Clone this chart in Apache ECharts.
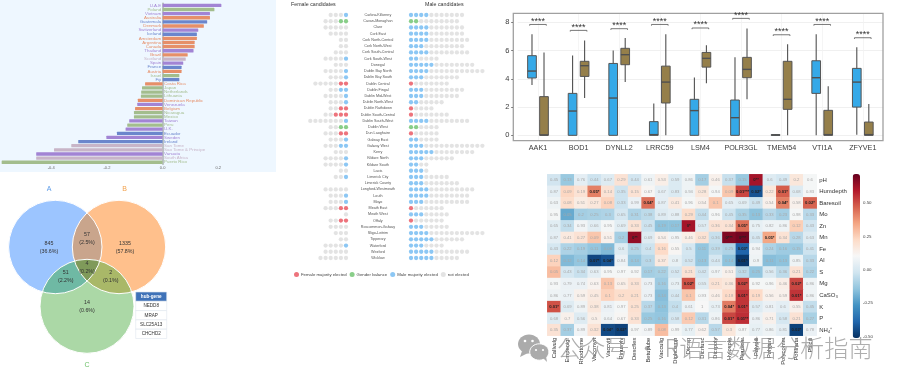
<!DOCTYPE html>
<html><head><meta charset="utf-8">
<style>html,body{margin:0;padding:0;background:#fff}#c{width:900px;height:383px;filter:blur(0.4px)}</style>
<script src="https://cdn.jsdelivr.net/npm/echarts@6/dist/echarts.min.js"></script></head>
<body><div id="c"></div>
<script>
// ---------- Panel A: diverging bars ----------
const barCountries=['U.A.E','Poland','Vietnam','Australia','Guatemala','Denmark','Switzerland','Iceland','Amsterdam','Argentina','Canada','Thailand','Brazil','Scotland','Spain','France','Austria','Israel','Fiji','Costa Rica','Japan','Netherlands','Lithuania','Dominican Republic','Venezuela','Belgium','Nicaragua','Mexico','Taiwan','Peru','U.K.','Ecuador','Sweden','Ireland','San Tome','Sao Tome & Principe','Vanuatu','South Africa','Puerto Rico'];
const barValues=[.211,.186,.17,.17,.16,.148,.128,.123,.123,.115,.115,.111,.09,.083,.074,.068,.068,.06,.06,-.063,-.074,-.077,-.078,-.089,-.091,-.099,-.103,-.103,-.12,-.127,-.133,-.164,-.202,-.303,-.328,-.39,-.454,-.454,-.578];
const barGroups=['p','g','p','o','b','o','p','b','o','o','o','p','o','m','p','b','o','g','b','o','g','g','g','o','p','o','g','g','p','g','p','b','p','b','m','m','p','m','g'];
const barTicks=[-0.4,-0.2,0,0.2];
// ---------- Panel B: Venn ----------
const vennNames=['A','B','C'];
const vennRegions=[['A'],['B'],['C'],['A','B'],['A','C'],['B','C'],['A','B','C']];
const vennCounts=['845','1335','14','57','51','2','4'];
const vennPercents=['36.6%','57.8%','0.6%','2.5%','2.2%','0.1%','0.2%'];
const hubHeader='hub-gene';
const hubGenes=['NEDD8','MRAP','SLC25A13','CHCHD2'];
// ---------- Panel C: candidate dots ----------
const constituencies=['Carlow-Kilkenny','Cavan-Monaghan','Clare','Cork East','Cork North-Central','Cork North-West','Cork South-Central','Cork South-West','Donegal','Dublin Bay North','Dublin Bay South','Dublin Central','Dublin Fingal','Dublin Mid-West','Dublin North-West','Dublin Rathdown','Dublin South-Central','Dublin South-West','Dublin West','Dun Laoghaire','Galway East','Galway West','Kerry','Kildare North','Kildare South','Laois','Limerick City','Limerick County','Longford-Westmeath','Louth','Mayo','Meath East','Meath West','Offaly','Roscommon-Galway','Sligo-Leitrim','Tipperary','Waterford','Wexford','Wicklow'];
const femaleTotal=[4,5,5,4,2,2,3,5,3,5,4,7,4,5,4,4,5,8,4,5,4,5,3,5,5,2,3,0,5,4,4,5,1,4,4,3,2,5,5,6];
const femaleElected=[1,2,0,0,0,0,0,1,0,1,1,2,2,1,1,2,3,1,2,2,1,2,0,1,1,0,1,0,0,1,1,2,0,2,0,0,0,1,0,0];
const maleTotal=[11,10,11,11,12,11,12,6,13,15,10,8,11,10,7,5,8,12,6,6,6,15,13,9,4,4,8,10,13,12,12,7,8,7,8,15,11,7,12,10];
const maleElected=[4,2,4,4,4,3,4,2,5,4,3,1,3,3,2,1,1,4,2,1,2,3,5,3,2,3,3,3,4,4,3,1,3,1,3,4,5,3,5,5];
const outcome=['m','b','m','m','m','m','m','m','m','m','m','f','m','m','m','f','f','m','b','f','m','m','m','m','m','m','m','m','m','m','m','f','m','f','m','m','m','m','m','m'];
const dotLegend=['Female majority elected','Gender balance','Male majority elected','not elected'];
// ---------- Panel D: boxplots [min,q1,median,q3,max] ----------
const boxGenes=['AAK1','BOD1','DYNLL2','LRRC59','LSM4','POLR3GL','TMEM54','VTI1A','ZFYVE1'];
const boxBlue=[[3.56,4.06,4.55,5.64,7.15],[0,0,1.72,2.97,5.66],[0,0,2.64,5.09,6.01],[0,0,.05,.97,2.26],[0,0,1.75,2.55,4.1],[0,0,1.25,2.5,5.52],[0,0,.02,.05,.1],[0,2.97,4.08,5.28,7.15],[.05,2,3.77,4.74,6.23]];
const boxOlive=[[0,0,.03,2.74,5.87],[2.64,4.17,4.93,5.24,6.72],[3.77,5,5.71,6.16,6.89],[0,2.29,3.77,4.9,7.15],[3.68,4.83,5.45,5.87,6.37],[2.55,4.08,4.67,5.52,7.57],[0,1.84,2.55,5.24,6.44],[0,0,.05,1.77,3.47],[0,0,.05,.94,2.22]];
const bracketHeights=[7.85,7.43,7.55,7.85,7.6,8.28,7.12,7.85,6.91];
const boxTicks=[0,2,4,6,8];
// ---------- Panel E: heatmap ----------
const heatCols=['Callvulg','Empenigr','Rhodtome','Vaccmyrt','Vaccviti','Pinusylv','Descflex','Betupube','Vacculig','Diphcomp','Dicrsp','Dicrfusc','Dicrpoly','Hylosple','Pleuschr','Polypili','Polyjuni','Polycomm','Pohlnuta','Ptilcili'];
const heatRows=['pH','Humdepth','Baresoil','Mo','Zn','Mn','Fe','Al','S','Mg','CaSO₃','K','P','NH₄⁺'];
const heatR=[
[-.01,-.12,.05,-.02,.03,.2,-.01,.08,.15,.02,.08,-.1,.14,-.03,-.12,.62,.03,0,.18,.1],
[.05,.24,.2,.42,.2,-.02,.2,.12,.05,.02,.08,.18,.1,.28,.52,-.42,.18,.48,.03,.1],
[.08,.22,.16,.18,.25,-.02,.07,.45,.05,.17,.1,.14,.28,.05,.04,-.02,.14,.42,.14,.47],
[.1,-.2,-.1,-.09,-.08,0,-.08,-.05,.03,.05,.22,-.04,.1,-.02,-.09,-.14,-.06,-.1,.1,-.06],
[.04,-.04,.09,.04,.1,.04,.2,-.02,-.14,-.14,.62,.03,.2,.2,.45,.06,.08,.08,.26,-.01],
[.05,.17,.2,.28,.14,-.1,.65,.03,.14,.09,.15,.2,-.03,.68,.7,0,.35,.2,-.06,.03],
[0,-.08,-.1,-.13,-.16,.03,-.07,-.02,.23,.12,0,-.13,-.05,-.08,-.38,.09,-.08,-.11,-.11,-.02],
[.25,-.16,-.13,-.45,-.42,.07,-.13,-.06,.17,.06,-.01,-.13,0,-.14,-.48,.08,-.15,-.14,.08,-.06],
[.3,0,-.03,.05,.1,.1,.1,-.1,-.09,0,.2,-.01,.08,.14,-.05,-.13,.02,-.05,.2,-.08],
[.1,.07,.07,.13,.28,.15,.2,.07,-.11,.06,.5,.03,.2,.18,.52,.1,.1,.15,.52,.08],
[.08,.07,.14,.17,.25,.22,.22,.07,-.15,0,.28,.1,.15,.23,.55,.23,.14,.14,.55,.08],
[.5,.03,.08,.18,.07,.1,.21,-.06,-.14,-.04,.07,.11,.06,.43,.55,.03,.07,.05,.14,-.04],
[.03,.14,.03,.15,.08,.12,.2,-.12,-.13,0,.27,-.06,.08,.52,.56,.07,.14,0,.2,-.09],
[.2,-.1,.09,.2,-.44,-.46,.1,.09,.3,.1,.06,.13,-.06,.18,.1,.06,.08,.05,-.46,.07]];
const heatP=[
['0.45','0.13','0.76','0.44','0.67','0.29','0.44','0.61','0.53','0.59','0.86','0.17','0.46','0.37','0.15','0**','0.6','0.49','0.2','0.6'],
['0.87','0.09','0.19','0.05*','0.14','0.35','0.15','0.67','0.67','0.83','0.94','0.28','0.94','0.09','0.01***','0.02*','0.22','0.01*','0.68','0.83'],
['0.63','0.08','0.51','0.27','0.08','0.33','0.99','0.04*','0.87','0.41','0.96','0.54','0.1','0.65','0.69','0.49','0.54','0.04*','0.58','0.02*'],
['0.95','0.05','0.2','0.25','0.3','0.65','0.31','0.38','0.89','0.88','0.29','0.44','0.96','0.45','0.35','0.13','0.33','0.23','0.98','0.33'],
['0.65','0.34','0.93','0.66','0.95','0.69','0.33','0.45','0.19','0.17','0*','0.57','0.36','0.34','0.05*','0.75','0.82','0.86','0.12','0.43'],
['0.87','0.41','0.27','0.09','0.51','0.2','0**','0.69','0.54','0.95','0.46','0.32','0.36','0***','0***','0.45','0.05*','0.34','0.28','0.63'],
['0.43','0.22','0.19','0.11','0.08','0.6','0.25','0.4','0.16','0.55','0.5','0.11','0.39','0.25','0.03*','0.94','0.24','0.16','0.15','0.41'],
['0.12','0.12','0.14','0.07*','0.04*','0.84','0.14','0.3','0.37','0.8','0.52','0.13','0.44','0.14','0.01*','0.9','0.11','0.13','0.85','0.33'],
['0.05','0.43','0.34','0.63','0.95','0.97','0.92','0.17','0.22','0.52','0.21','0.42','0.97','0.51','0.32','0.25','0.56','0.36','0.21','0.22'],
['0.93','0.79','0.74','0.63','0.13','0.65','0.33','0.73','0.16','0.73','0.02*','0.55','0.21','0.36','0.02*','0.92','0.96','0.46','0.02*','0.86'],
['0.86','0.77','0.59','0.45','0.1','0.2','0.21','0.73','0.14','0.44','0.1','0.93','0.46','0.18','0.01*','0.19','0.56','0.59','0.01*','0.86'],
['0.01*','0.69','0.89','0.38','0.81','0.97','0.25','0.37','0.13','0.4','0.61','1','0.73','0.04*','0.01*','0.57','0.81','0.6','0.55','0.45'],
['0.68','0.7','0.56','0.5','0.64','0.67','0.33','0.25','0.16','0.58','0.12','0.31','0.86','0.01*','0.01**','0.86','0.71','0.58','0.21','0.27'],
['0.35','0.37','0.89','0.32','0.04*','0.02*','0.97','0.89','0.08','0.99','0.77','0.62','0.57','0.3','0.87','0.77','0.86','0.81','0.02*','0.78']];
const colorbarTicks=['0.50','0.25','0.00','-0.25','-0.50'];
const watermark='公众号 · R语言数据分析指南';

// ---------- styles & layout (separate from the data) ----------
const FONT='"Liberation Sans",Arial,sans-serif';
const barPalette={p:'#a284d4',g:'#a3bd8d',b:'#6b86cc',o:'#e68f69',m:'#c8b5c8'};
const dotColors={f:'#e8505b',b:'#6fb9f1',m:'#6fb9f1',n:'#dcdcdc'};
dotColors.b='#6cc26c';
const rdbu=['#053061','#2166ac','#4393c3','#92c5de','#d1e5f0','#f7f7f7','#fddbc7','#f4a582','#d6604d','#b2182b','#67001f'];
const vennLayout={A:[55.3,72,46.7],B:[119,72,46.7],C:[87,131.3,47]};
const vennFill=['#9cc5ff','#ffc08c','#abd8a6','#c9a58c','#6fb9a4','#a9b868','#7f9a5a'];
const vennLabelPos=[[49,72.7],[125,72.7],[87,132],[87,64],[65.7,102],[110.7,102],[87,92.7]];
const vennTitleColor=['#5b9be8','#f2a24e','#6cc068'];
const vennTitlePos=[[49,14],[124.7,14],[87,190.3]];

const inAll=(p,names)=>names.every(n=>{const c=vennLayout[n];return Math.hypot(p[0]-c[0],p[1]-c[1])<=c[2]+1e-6;});
function regionPolygon(names){
  const pts=[];
  names.forEach(n=>{const c=vennLayout[n];const others=names.filter(m=>m!==n);
    for(let i=0;i<720;i++){const a=i/720*2*Math.PI;const p=[c[0]+c[2]*Math.cos(a),c[1]+c[2]*Math.sin(a)];if(inAll(p,others))pts.push(p);}});
  const cx=pts.reduce((s,p)=>s+p[0],0)/pts.length,cy=pts.reduce((s,p)=>s+p[1],0)/pts.length;
  return pts.sort((u,v)=>Math.atan2(u[1]-cy,u[0]-cx)-Math.atan2(v[1]-cy,v[0]-cx));
}
const hiddenAxis=o=>Object.assign({show:false},o);

// dots
function dotSeries(key,name,xi,yi,totals,elected){
  const data=[];
  constituencies.forEach((c,r)=>{
    for(let s=1;s<=totals[r];s++){
      const k=s<=elected[r]?outcome[r]:'n';
      if(k===key)data.push([s,c]);
    }});
  return {type:'scatter',name,xAxisIndex:xi,yAxisIndex:yi,data,symbolSize:4.3,itemStyle:{color:dotColors[key]},silent:true};
}
const dotKeys=['f','b','m','n'];
const dots=[];
dotKeys.forEach((k,i)=>{dots.push(dotSeries(k,dotLegend[i],2,2,femaleTotal,femaleElected));dots.push(dotSeries(k,dotLegend[i],3,3,maleTotal,maleElected));});

// box custom
function boxSeries(rows,color,side){
  return {type:'custom',xAxisIndex:4,yAxisIndex:4,clip:false,silent:true,
    data:rows.map((r,i)=>[i].concat(r)),encode:{x:0,y:[1,2,3,4,5]},
    renderItem(params,api){
      const i=api.value(0);const band=api.size([1,0])[0];
      const cx=api.coord([i,0])[0]+side*band*0.148;const hw=band*0.107;
      const Y=k=>api.coord([i,api.value(k)])[1];
      const line=(x1,y1,x2,y2,w)=>({type:'line',shape:{x1,y1,x2,y2},style:{stroke:'#505050',lineWidth:w}});
      return {type:'group',children:[
        line(cx,Y(1),cx,Y(5),1.1),
        {type:'rect',shape:{x:cx-hw,y:Y(4),width:hw*2,height:Math.max(Y(2)-Y(4),0.3)},style:{fill:color,stroke:'#555',lineWidth:1}},
        line(cx-hw,Y(3),cx+hw,Y(3),1.4)]};
    }};
}
const bracket={type:'custom',xAxisIndex:4,yAxisIndex:4,clip:false,silent:true,z:5,
  data:bracketHeights.map((h,i)=>[i,h]),
  renderItem(params,api){
    const p=api.coord([api.value(0),api.value(1)]);const hw=api.size([1,0])[0]*0.205;
    return {type:'group',children:[
      {type:'polyline',shape:{points:[[p[0]-hw,p[1]+1.2],[p[0]-hw,p[1]],[p[0]+hw,p[1]],[p[0]+hw,p[1]+1.2]]},style:{stroke:'#555',fill:null,lineWidth:.8}},
      {type:'text',style:{text:'****',x:p[0],y:p[1]+1.5,align:'center',verticalAlign:'bottom',font:'9px '+FONT,fill:'#333'}}]};
  }};

// heat
const heatData=[];
heatRows.forEach((r,ri)=>heatCols.forEach((c,ci)=>{
  const sig=heatP[ri][ci].includes('*');
  heatData.push({value:[ci,ri,heatR[ri][ci]],label:{color:sig?'#222':'#a8a8a8',fontWeight:sig?'bold':'normal'}});
}));

const graphicEls=[
  {type:'rect',z:-1,shape:{x:0,y:0,width:276,height:172},style:{fill:'#eef7ff'}},
  {type:'text',style:{text:'Female candidates',x:291,y:5,font:'5.3px '+FONT,fill:'#333',verticalAlign:'middle'}},
  {type:'text',style:{text:'Male candidates',x:425,y:5,font:'5.3px '+FONT,fill:'#333',verticalAlign:'middle'}},
  {type:'rect',z:4,shape:{x:513.3,y:13.3,width:369.7,height:127.4},style:{fill:null,stroke:'#a0a0a0',lineWidth:1.3}},
];
vennNames.forEach((n,i)=>graphicEls.push({type:'text',style:{text:n,x:vennTitlePos[i][0],y:175+vennTitlePos[i][1],align:'center',verticalAlign:'middle',font:'7px '+FONT,fill:vennTitleColor[i]}}));
[hubHeader].concat(hubGenes).forEach((t,i)=>{
  const y=292+i*9.3;
  graphicEls.push({type:'rect',z:6,shape:{x:135.7,y,width:31,height:9.3},style:{fill:i?'#fff':'#3f72b8',stroke:'#dfe6ee',lineWidth:.6}});
  graphicEls.push({type:'text',z:7,style:{text:t,x:151.2,y:y+4.65,align:'center',verticalAlign:'middle',font:(i?'':'bold ')+'4.6px '+FONT,fill:i?'#333':'#fff'}});
});
colorbarTicks.forEach((t,i)=>graphicEls.push({type:'text',style:{text:t,x:863,y:203+i*33.4,verticalAlign:'middle',font:'4.4px '+FONT,fill:'#444'}}));
const wmFill='#ababab';
graphicEls.push(
  {type:'ellipse',z:100,shape:{cx:529,cy:344,rx:11,ry:9.6},style:{fill:wmFill}},
  {type:'polygon',z:100,shape:{points:[[522,351],[520,357],[528,353]]},style:{fill:wmFill}},
  {type:'circle',z:100,shape:{cx:525,cy:341,r:1.3},style:{fill:'#fff'}},
  {type:'circle',z:100,shape:{cx:532.5,cy:341,r:1.3},style:{fill:'#fff'}},
  {type:'ellipse',z:101,shape:{cx:539.3,cy:352,rx:9.6,ry:8.2},style:{fill:wmFill,stroke:'#fff',lineWidth:1}},
  {type:'polygon',z:101,shape:{points:[[543,358],[547,362],[546,356]]},style:{fill:wmFill}},
  {type:'circle',z:102,shape:{cx:536,cy:350,r:1.1},style:{fill:'#fff'}},
  {type:'circle',z:102,shape:{cx:543,cy:350,r:1.1},style:{fill:'#fff'}},
  {type:'text',z:100,style:{text:watermark,x:557,y:348,verticalAlign:'middle',font:'300 24.2px "Noto Sans CJK SC"',fill:'rgba(125,125,125,0.62)'}}
);

const option={
  animation:false,backgroundColor:'#fff',textStyle:{fontFamily:FONT},
  grid:[
    {left:0,top:3.3,width:274,height:161},
    {left:0,top:175,width:200,height:208},
    {left:286,top:11.9,width:65.1,height:249.2},
    {left:405.9,top:11.9,width:102,height:249.2},
    {left:517.7,top:13.3,width:365.4,height:127.4},
    {left:547.3,top:174.3,width:269.4,height:161.4}
  ],
  xAxis:[
    {gridIndex:0,type:'value',min:-0.584,max:0.4,axisLine:{show:false},axisTick:{show:false},splitLine:{show:false},
      axisLabel:{fontSize:4,color:'#666',margin:2,customValues:barTicks,formatter:v=>v.toFixed(1)}},
    hiddenAxis({gridIndex:1,type:'value',min:0,max:200}),
    hiddenAxis({gridIndex:2,type:'value',min:0,max:12.76,inverse:true}),
    hiddenAxis({gridIndex:3,type:'value',min:0,max:20}),
    {gridIndex:4,type:'category',data:boxGenes,axisLine:{show:false},axisTick:{alignWithLabel:true,length:2,lineStyle:{color:'#666'}},
      splitLine:{show:true,alignWithLabel:true,lineStyle:{color:'#f0f0f0',width:.7}},axisLabel:{interval:0,fontSize:7.2,color:'#3a3a3a',margin:4}},
    {gridIndex:5,type:'category',data:heatCols,axisLine:{show:false},axisTick:{show:false},
      axisLabel:{interval:0,rotate:90,fontSize:5.8,color:'#333',margin:2}}
  ],
  yAxis:[
    {gridIndex:0,type:'category',inverse:true,data:barCountries,axisTick:{show:false},axisLabel:{show:false},axisLine:{onZero:true,lineStyle:{color:'#aeb4b8',width:1.6}}},
    hiddenAxis({gridIndex:1,type:'value',min:0,max:208,inverse:true}),
    {gridIndex:2,type:'category',inverse:true,position:'right',offset:6,data:constituencies,axisLine:{show:false},axisLabel:{show:false},
      axisTick:{alignWithLabel:true,length:1.5,lineStyle:{color:'#777',width:.7}}},
    {gridIndex:3,type:'category',inverse:true,position:'left',offset:5,data:constituencies,axisLine:{show:false},
      axisTick:{alignWithLabel:true,length:1,inside:false,lineStyle:{color:'#555',width:.7}},
      axisLabel:{interval:0,fontSize:3.7,color:'#555',align:'center',margin:23}},
    {gridIndex:4,type:'value',min:-0.38,max:8.64,offset:4.4,axisLine:{show:false},
      axisTick:{show:true,length:2,customValues:boxTicks,lineStyle:{color:'#666'}},
      axisLabel:{fontSize:7.5,color:'#3a3a3a',margin:4,customValues:boxTicks},
      splitLine:{show:true,lineStyle:{color:'#ececec',width:.8}}},
    {gridIndex:5,type:'category',inverse:true,position:'right',data:heatRows,axisLine:{show:false},axisTick:{show:false},
      axisLabel:{interval:0,fontSize:6,color:'#333',margin:2.5}}
  ],
  legend:{data:dotLegend,left:294,top:272,itemWidth:5,itemHeight:5,itemGap:3,icon:'circle',padding:0,
    textStyle:{fontSize:4.3,color:'#444',padding:[0,0,0,-3]}},
  visualMap:{type:'continuous',seriesIndex:[dots.length+7],dimension:2,min:-0.5,max:0.72,inRange:{color:rdbu},
    left:852.7,top:174,itemWidth:7.3,itemHeight:164,text:null,calculable:false,padding:0,textStyle:{fontSize:1,color:'transparent'},formatter:()=>''},
  graphic:{elements:graphicEls},
  series:[
    {type:'bar',xAxisIndex:0,yAxisIndex:0,barWidth:3.3,silent:true,
      data:barValues.map((v,i)=>({value:v,itemStyle:{color:barPalette[barGroups[i]],borderRadius:.5},
        label:{show:true,position:v>0?'left':'right',distance:1.5,fontSize:4.4,formatter:'{b}',color:barPalette[barGroups[i]]}}))},
    {type:'custom',xAxisIndex:1,yAxisIndex:1,clip:false,silent:true,data:vennRegions.map((r,i)=>[i]),
      renderItem(params,api){const i=api.value(0);
        return {type:'polygon',shape:{points:regionPolygon(vennRegions[i]).map(p=>api.coord(p))},style:{fill:vennFill[i]}};}},
    {type:'custom',xAxisIndex:1,yAxisIndex:1,clip:false,silent:true,data:vennNames.map((n,i)=>[i]),
      renderItem(params,api){const c=vennLayout[vennNames[api.value(0)]];const p=api.coord([c[0],c[1]]);
        return {type:'circle',shape:{cx:p[0],cy:p[1],r:c[2]},style:{fill:null,stroke:'#fff',lineWidth:1}};}},
    {type:'custom',xAxisIndex:1,yAxisIndex:1,clip:false,silent:true,z:4,data:vennCounts.map((n,i)=>[i]),
      renderItem(params,api){const i=api.value(0);const p=api.coord(vennLabelPos[i]);
        return {type:'text',style:{text:vennCounts[i]+'\n('+vennPercents[i]+')',x:p[0],y:p[1],align:'center',verticalAlign:'middle',font:'5.3px '+FONT,lineHeight:8,fill:'#333'}};}},
    ...dots,
    boxSeries(boxBlue,'#35a9e8',-1),
    boxSeries(boxOlive,'#957f4a',1),
    bracket,
    {type:'heatmap',xAxisIndex:5,yAxisIndex:5,data:heatData,silent:true,
      label:{show:true,fontSize:4.2,formatter:p=>heatP[p.value[1]][p.value[0]]}}
  ]
};
const chart=echarts.init(document.getElementById('c'),null,{renderer:'canvas'});
chart.setOption(option);
</script></body></html>
